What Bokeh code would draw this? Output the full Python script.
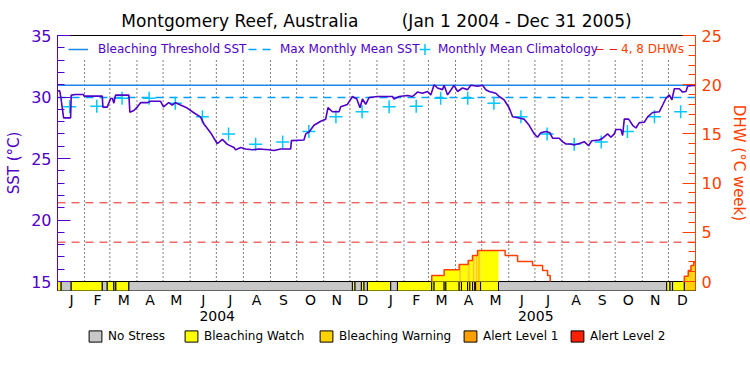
import numpy as np
import pandas as pd
from bokeh.plotting import figure
from bokeh.layouts import column
from bokeh.models import (Range1d, LinearAxis, SingleIntervalTicker, FixedTicker,
                          Legend, LegendItem)
from bokeh.embed import file_html
from bokeh.resources import INLINE

# ---------------- data ----------------
# days since 2004-01-01
sst_day = [0, 2.5, 4, 7, 15, 15.7, 20.6, 29.8, 30.5, 51.3, 52, 57, 60.8, 63, 64.6, 66.5, 81.8, 82.9,
           87.5, 91.4, 95.2, 102.9, 106.6, 118.1, 121.5, 127.3, 131.5, 135.3, 141, 148.7, 154.5,
           164, 167.8, 175.4, 183.1, 188.9, 194.6, 202.2, 204.1, 209.8, 215.6, 223.3, 230.9,
           242.2, 248, 255.7, 267.2, 268, 282.4, 284.4, 288.2, 293.9, 301.6, 307.3, 309.9, 315,
           322.6, 324.5, 332.2, 337.9, 342.9, 346.6, 349.4, 353.2, 357, 366.6, 383.8, 385.6,
           391.4, 401, 406.7, 412.5, 418.2, 423.9, 427.7, 431.5, 435.4, 441.1, 443, 446.9, 450.6,
           454.4, 458.3, 464, 469.8, 473.6, 481.3, 487, 490.8, 494.6, 502.2, 506, 511.8, 517.5,
           521.4, 529, 534.7, 540.4, 546.2, 550, 553.8, 559.6, 564.2, 567.2, 574.8, 578.7, 582.5,
           588.2, 592, 599.7, 603.5, 608.5, 612.3, 620.7, 624.6, 630.3, 634.1, 637.9, 639.8,
           645.6, 647.5, 649.4, 654.4, 659, 662.8, 666.6, 672.3, 676.2, 681.9, 689.5, 693.4,
           697.2, 701, 704, 706.7, 712.4, 716.3, 720.1, 722, 729.6, 731]
sst_val = [30.5, 30.5, 29.9, 28.3, 28.3, 30.15, 30.2, 30.2, 30.07, 30.07, 29.18, 29.18, 29.88, 29.88,
           29.5, 30.15, 30.15, 28.77, 28.9, 29.18, 29.54, 29.54, 29.65, 29.65, 29.2, 29.54, 29.35,
           29.54, 29.35, 29.1, 28.8, 28.36, 27.8, 27.1, 26.2, 26.55, 26.15, 25.9, 25.7, 25.9,
           25.77, 25.71, 25.77, 25.71, 25.65, 25.77, 25.77, 26.45, 26.5, 27.0, 27.15, 27.7, 28.03,
           28.2, 29.13, 28.8, 28.8, 29.21, 29.4, 30.04, 29.84, 29.13, 29.84, 29.4, 29.96, 30.04,
           30.04, 29.84, 30.04, 30.12, 30.04, 30.4, 30.31, 30.45, 30.17, 31.0, 30.73, 30.6, 30.95,
           30.17, 30.55, 30.95, 30.45, 30.73, 30.6, 30.95, 30.87, 30.95, 30.59, 30.45, 30.31,
           30.04, 29.76, 29.13, 28.39, 28.3, 28.2, 27.7, 27.0, 26.73, 27.09, 27.2, 27.09, 26.65,
           26.65, 26.37, 26.18, 26.18, 26.1, 26.26, 26.37, 26.04, 26.45, 26.5, 26.65, 27.0, 26.73,
           27.0, 27.36, 27.36, 26.87, 28.2, 28.2, 27.7, 27.48, 27.92, 27.95, 28.39, 28.74, 28.8,
           29.35, 29.9, 30.17, 29.76, 30.67, 30.67, 30.4, 30.45, 30.87, 30.95, 30.9]

clim_vals = [29.2, 29.25, 29.9, 29.9, 29.5, 28.4, 27.0, 26.15, 26.35, 27.2, 28.4, 28.8]
mmm_sst = 29.95
threshold_sst = 30.95

dhw_day = [0, 428.8, 443, 460.2, 470.5, 475.5, 481.3, 512.9, 527.1, 544.3, 555.8, 561.5, 564.5,
           718.2, 722.7, 725.8, 728.9, 731]
dhw_val = [0, 0.61, 1.19, 1.73, 2.14, 2.64, 3.15, 2.64, 2.03, 1.63, 1.12, 0.61, 0,
           0.54, 1.12, 1.63, 1.97, 1.97]
dhw_levels = [4, 8]

stress_start = [0, 4.2, 15.7, 51.3, 57, 64.6, 66.9, 81.8, 337.9, 340.9, 348.2, 351.2, 355.1, 381.8,
                389.5, 428.8, 431.5, 443, 445, 460.2, 462.9, 469.8, 472.5, 475.5, 478.1, 479.1,
                484.8, 505.3, 698, 701.8, 704.8, 718.2]
stress_end = stress_start[1:] + [731]
stress_level = [1, 0, 1, 0, 1, 0, 1, 0, 1, 0, 1, 0, 1, 0,
                1, 1, 1, 1, 1, 2, 1, 2, 1, 2, 1, 2,
                1, 0, 1, 0, 1, 2]
stress_names = ["No Stress", "Bleaching Watch", "Bleaching Warning", "Alert Level 1", "Alert Level 2"]
stress_colors = ["#c8c8c8", "#ffff00", "#ffd200", "#ffa000", "#ff2000"]

month_letters = ["J", "F", "M", "A", "M", "J", "J", "A", "S", "O", "N", "D"]
year_labels = ["2004", "2005"]

# ---------------- derived positions ----------------
t0 = pd.Timestamp("2004-01-01")
mstarts = [(d - t0).days for d in pd.date_range("2004-01-01", "2006-01-01", freq="MS")]
mid_month = [int(round((a + b) / 2.0)) for a, b in zip(mstarts[:-1], mstarts[1:])]
clim_day = [s + 14 for s in mstarts[:-1]]
clim_all = clim_vals + clim_vals
ystarts = [0, 366, 731]
mid_year = [int(round((a + b) / 2.0)) for a, b in zip(ystarts[:-1], ystarts[1:])]

PURPLE = "#5000c8"
ORANGE = "#ff4000"
BLUE = "#1a88e8"
DBLUE = "#00a0ff"
CYAN = "#00c8ff"
RED = "#e82020"
FONT = "DejaVu Sans"

SST_LO, SST_HI = 14.27, 35.0
p = figure(width=750, height=325, output_backend="svg", toolbar_location=None,
           x_range=Range1d(0, 731), y_range=Range1d(SST_LO, SST_HI),
           x_axis_type=None, y_axis_type=None,
           min_border_left=57, min_border_right=55, min_border_top=35, min_border_bottom=35)
p.extra_y_ranges = {"dhw": Range1d((SST_LO - 15) * 1.25, (SST_HI - 15) * 1.25)}
p.grid.visible = False
p.outline_line_color = "black"
p.background_fill_color = "white"
p.border_fill_color = "white"

p.title.text = "Montgomery Reef, Australia\u00a0\u00a0\u00a0\u00a0\u00a0\u00a0\u00a0\u00a0(Jan 1 2004 - Dec 31 2005)"
p.title.align = "center"
p.title.text_font = FONT
p.title.text_font_size = "17px"
p.title.text_font_style = "normal"
p.title.text_color = "black"

# dotted month separators
p.segment(x0=mstarts[1:-1], y0=15, x1=mstarts[1:-1], y1=33.0, line_color="black",
          line_dash="1 3", line_width=1)

# stress bar
bar_bottom = (SST_LO - 15) * 1.25 - 0.2
p.quad(left=stress_start, right=stress_end, bottom=bar_bottom, top=0,
       fill_color=[stress_colors[l] for l in stress_level], line_color="black", line_width=1,
       y_range_name="dhw")

# fill under DHW by stress colour
fl, fr, ft, fc = [], [], [], []
for s, e, l in zip(stress_start, stress_end, stress_level):
    if l == 0:
        continue
    for i in range(len(dhw_day) - 1):
        v = dhw_val[i]
        a, b = max(s, dhw_day[i]), min(e, dhw_day[i + 1])
        if v > 0 and b > a:
            fl.append(a); fr.append(b); ft.append(v); fc.append(stress_colors[l])
p.quad(left=fl, right=fr, bottom=0, top=ft, fill_color=fc, line_color=None, y_range_name="dhw")

# DHW 4, 8 lines
dhw_rs = []
for lv in dhw_levels:
    dhw_rs.append(p.line(x=[0, 731], y=[lv, lv], line_color=RED, line_dash="8 6", line_width=1,
                         y_range_name="dhw"))

# MMM and threshold
r_mmm = p.line(x=[0, 731], y=[mmm_sst, mmm_sst], line_color=DBLUE, line_dash="8 6", line_width=1.5)
r_thr = p.line(x=[0, 731], y=[threshold_sst, threshold_sst], line_color=BLUE, line_width=1.5)

# climatology
r_clim = p.scatter(x=clim_day, y=clim_all, marker="cross", size=13, line_color=CYAN, line_width=1.5)

# SST
p.line(x=sst_day, y=sst_val, line_color=PURPLE, line_width=1.6)

# DHW step line
px, py = [], []
for i in range(len(dhw_day) - 1):
    x0, x1, v = dhw_day[i], dhw_day[i + 1], dhw_val[i]
    if v > 0:
        prev = dhw_val[i - 1] if i > 0 else 0.0
        if prev <= 0:
            px.append(x0); py.append(0.0)
        px += [x0, x1]; py += [v, v]
        if dhw_val[i + 1] <= 0:
            px += [x1, np.nan]; py += [0.0, np.nan]
p.line(x=px, y=py, line_color=ORANGE, line_width=1.5, y_range_name="dhw")

# ---------------- axes ----------------
la = LinearAxis(ticker=SingleIntervalTicker(interval=5, num_minor_ticks=5), axis_label="SST (\u00b0C)")
ra = LinearAxis(ticker=SingleIntervalTicker(interval=5, num_minor_ticks=5), y_range_name="dhw",
                axis_label="DHW (\u00b0C week)")
for ax, col in ((la, PURPLE), (ra, ORANGE)):
    ax.axis_line_color = col
    ax.major_tick_line_color = col
    ax.minor_tick_line_color = col
    ax.major_tick_in = 13
    ax.major_tick_out = 0
    ax.minor_tick_in = 7
    ax.minor_tick_out = 0
    ax.major_label_text_color = col
    ax.major_label_text_font = FONT
    ax.major_label_text_font_size = "16px"
    ax.major_label_standoff = 6
    ax.axis_label_text_color = col
    ax.axis_label_text_font = FONT
    ax.axis_label_text_font_size = "15px"
    ax.axis_label_text_font_style = "normal"
    ax.axis_label_standoff = 5
p.add_layout(la, "left")
p.add_layout(ra, "right")

xa = LinearAxis(ticker=FixedTicker(ticks=mid_month, minor_ticks=[]),
                major_label_overrides={d: month_letters[i % 12] for i, d in enumerate(mid_month)})
ya = LinearAxis(ticker=FixedTicker(ticks=mid_year, minor_ticks=[]),
                major_label_overrides={d: year_labels[i] for i, d in enumerate(mid_year)})
for ax, so in ((xa, 1), (ya, 0)):
    ax.axis_line_color = None
    ax.major_tick_line_color = None
    ax.minor_tick_line_color = None
    ax.major_tick_in = 0
    ax.major_tick_out = 0
    ax.major_label_standoff = so
    ax.major_label_text_font = FONT
    ax.major_label_text_font_size = "14px"
    ax.major_label_text_color = "black"
p.add_layout(xa, "below")
p.add_layout(ya, "below")


def style_legend(lg, col, gw, gh, so, fsize="12px"):
    lg.label_text_color = col
    lg.label_text_font = FONT
    lg.label_text_font_size = fsize
    lg.glyph_width = gw
    lg.glyph_height = gh
    lg.label_standoff = so
    lg.spacing = 0
    lg.padding = 0
    lg.margin = 0
    lg.background_fill_alpha = 0
    lg.border_line_color = None


# ---------------- top legend (one entry each, placed like the reference) ----------------
# (label, renderer, colour, x offset, glyph width, glyph height, y offset, standoff)
top_items = [("Bleaching Threshold SST", r_thr, PURPLE, 11, 20, 14, 234, 10),
             ("Max Monthly Mean SST", r_mmm, PURPLE, 191, 27, 14, 234, 5),
             ("Monthly Mean Climatology", r_clim, PURPLE, 354, 27, 30, 226, 0),
             ("4, 8 DHWs", dhw_rs[0], ORANGE, 538, 22, 14, 234, 4)]
for label, rend, col, lx, gw, gh, ly, so in top_items:
    lg = Legend(items=[LegendItem(label=label, renderers=[rend])], location=(lx, ly))
    style_legend(lg, col, gw, gh, so)
    p.add_layout(lg)

# ---------------- bottom legend (separate strip, frame aligned with the chart) ----------------
q = figure(width=750, height=50, output_backend="svg", toolbar_location=None,
           x_range=Range1d(0, 1), y_range=Range1d(0, 1), x_axis_type=None, y_axis_type=None,
           min_border=0, min_border_left=57, min_border_right=55, min_border_top=0,
           min_border_bottom=0)
q.outline_line_color = None
q.grid.visible = False
swatch_x = [30, 126, 261, 405, 512]
for name, col, sx in zip(stress_names, stress_colors, swatch_x):
    r = q.quad(left=[5], right=[6], bottom=[5], top=[6], fill_color=col, line_color="black")
    lg = Legend(items=[LegendItem(label=name, renderers=[r])], location=(sx, 32))
    style_legend(lg, "black", 16, 14, 5)
    q.add_layout(lg)

layout = column(p, q, spacing=0)
open("out.html", "w").write(file_html(layout, INLINE))
